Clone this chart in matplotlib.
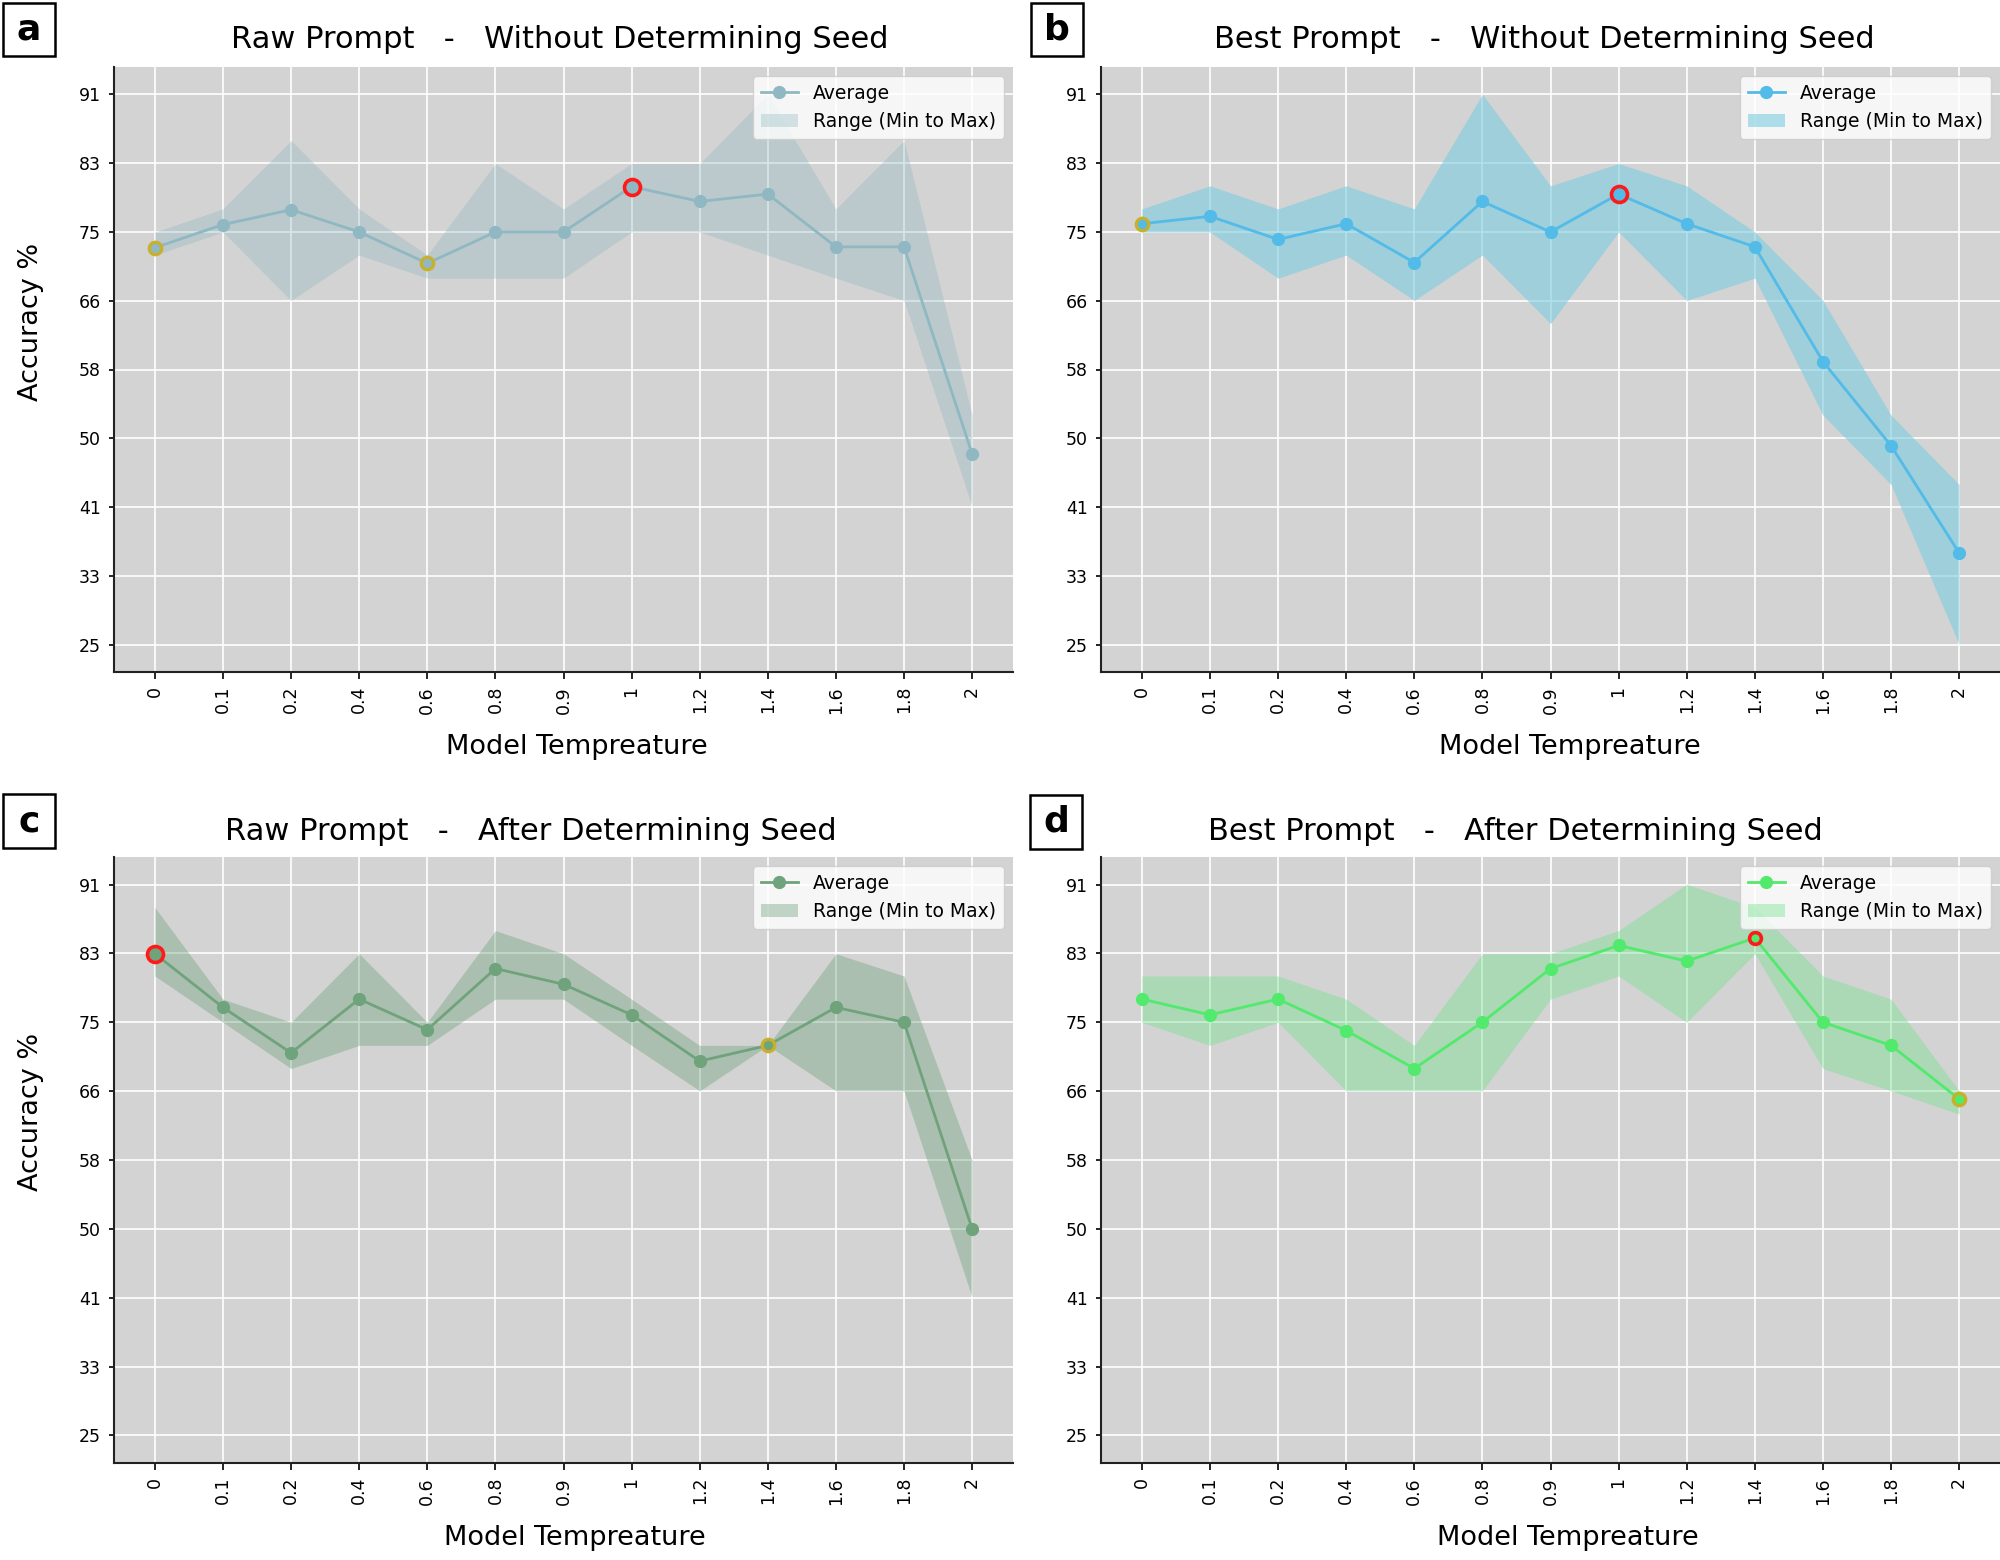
import matplotlib
matplotlib.use("Agg")
import matplotlib.pyplot as plt
from matplotlib.lines import Line2D
from matplotlib.patches import Patch, Rectangle
import numpy as np

# categories and ticks
temps = ["0", "0.1", "0.2", "0.4", "0.6", "0.8", "0.9", "1", "1.2", "1.4", "1.6", "1.8", "2"]
y_tick_values = np.linspace(25, 91.667, 9)
y_tick_labels = ["25", "33", "41", "50", "58", "66", "75", "83", "91"]

# a: raw prompt, without seed
raw_without_avg = [73.1, 75.9, 77.7, 75.0, 71.2, 75.0, 75.0, 80.5, 78.7, 79.6, 73.2, 73.2, 48.1]
raw_without_min = [72.2, 75.0, 66.7, 72.2, 69.4, 69.4, 69.4, 75.0, 75.0, 72.2, 69.4, 66.7, 41.7]
raw_without_max = [75.0, 77.8, 86.1, 77.8, 72.2, 83.3, 77.8, 83.3, 83.3, 91.7, 77.8, 86.1, 52.8]

# b: best prompt, without seed
best_without_avg = [76.0, 76.9, 74.1, 76.0, 71.3, 78.7, 75.0, 79.6, 76.0, 73.2, 59.3, 49.1, 36.1]
best_without_min = [75.0, 75.0, 69.4, 72.2, 66.7, 72.2, 63.9, 75.0, 66.7, 69.4, 52.8, 44.4, 25.0]
best_without_max = [77.8, 80.6, 77.8, 80.6, 77.8, 91.7, 80.6, 83.3, 80.6, 75.0, 66.7, 52.8, 44.4]

# c: raw prompt, after seed
raw_after_avg = [83.3, 76.8, 71.3, 77.8, 74.1, 81.5, 79.6, 75.9, 70.3, 72.2, 76.8, 75.0, 50.0]
raw_after_min = [80.6, 75.0, 69.4, 72.2, 72.2, 77.8, 77.8, 72.2, 66.7, 72.2, 66.7, 66.7, 41.7]
raw_after_max = [88.9, 77.8, 75.0, 83.3, 75.0, 86.1, 83.3, 77.8, 72.2, 72.2, 83.3, 80.6, 58.3]

# d: best prompt, after seed
best_after_avg = [77.8, 75.9, 77.8, 74.0, 69.4, 75.0, 81.5, 84.3, 82.4, 85.2, 75.0, 72.2, 65.7]
best_after_min = [75.0, 72.2, 75.0, 66.7, 66.7, 66.7, 77.8, 80.6, 75.0, 83.3, 69.4, 66.7, 63.9]
best_after_max = [80.6, 80.6, 80.6, 77.8, 72.2, 83.3, 83.3, 86.1, 91.7, 88.9, 80.6, 77.8, 66.7]

# highlighted points (index into temps)
red_points = [[7], [7], [0], [9]]
gold_points = [[0, 4], [0], [9], [12]]

titles = ["Raw Prompt   -   Without Determining Seed",
          "Best Prompt   -   Without Determining Seed",
          "Raw Prompt   -   After Determining Seed",
          "Best Prompt   -   After Determining Seed"]
letters = ["a", "b", "c", "d"]

series = [(raw_without_avg, raw_without_min, raw_without_max),
          (best_without_avg, best_without_min, best_without_max),
          (raw_after_avg, raw_after_min, raw_after_max),
          (best_after_avg, best_after_min, best_after_max)]

line_colors = ["#8fb8c2", "#52bbe8", "#6fa37c", "#52ea6c"]
fill_colors = ["#8fb8c2", "#7ccde0", "#6fa37c", "#6fe089"]
fill_alphas = [0.35, 0.6, 0.4, 0.4]

W, H = 2000, 1560


def px_box(x0, y0, x1, y1):
    # pixel box measured from the top-left -> figure fraction rect
    return [x0 / W, 1 - y1 / H, (x1 - x0) / W, (y1 - y0) / H]


axes_px = [(114, 67, 1013, 672), (1101, 67, 2000, 672),
           (114, 857, 1013, 1463), (1101, 857, 2000, 1463)]
title_px = [(231, 48), (1214, 48), (225, 840), (1208, 840)]
box_px = [(3, 3, 55, 56), (1031, 3, 1083, 56), (3, 794, 55, 848), (1030, 795, 1082, 849)]
xlabel_x = [0.515, 0.521, 0.513, 0.519]

plt.rcParams['font.family'] = 'DejaVu Sans'
fig = plt.figure(figsize=(20, 15.6), dpi=100)

x = np.arange(len(temps))
for i in range(4):
    avg, lo, hi = [np.array(s) for s in series[i]]
    ax = fig.add_axes(px_box(*axes_px[i]))
    ax.set_facecolor("#d3d3d3")
    ax.grid(True, color="white", linewidth=1.2)
    ax.set_axisbelow(True)

    ax.fill_between(x, lo, hi, color=fill_colors[i], alpha=fill_alphas[i], linewidth=0)
    ax.plot(x, avg, color=line_colors[i], lw=2, marker="o", ms=8.5)
    r = red_points[i]
    g = gold_points[i]
    ax.plot(x[r], avg[r], "o", ms=11.5 if i != 3 else 8.5, mfc="none", mec="#ff1a1a", mew=2.6)
    ax.plot(x[g], avg[g], "o", ms=9, mfc="none", mec="#c9b02a", mew=2.3)

    ax.set_xticks(x)
    ax.set_xticklabels(temps, rotation=90, fontsize=12.5)
    ax.set_yticks(y_tick_values)
    ax.set_yticklabels(y_tick_labels, fontsize=12.5)
    ax.set_xlim(-0.6, 12.6)
    ax.set_ylim(21.667, 95)
    for s in ["top", "right"]:
        ax.spines[s].set_visible(False)
    for s in ["left", "bottom"]:
        ax.spines[s].set_linewidth(1.5)
        ax.spines[s].set_color("#222222")
    ax.tick_params(axis="x", length=5, width=1.2, pad=5)
    ax.tick_params(axis="y", length=3.5, width=1.2, pad=6)

    ax.set_xlabel("Model Tempreature", fontsize=19.5)
    ax.xaxis.set_label_coords(xlabel_x[i], -0.103)
    if i % 2 == 0:
        ax.set_ylabel("Accuracy %", fontsize=19.5)
        ax.yaxis.set_label_coords(-0.078, 0.579)

    handles = [Line2D([0], [0], color=line_colors[i], lw=2, marker="o", ms=8.5),
               Patch(facecolor=fill_colors[i], alpha=fill_alphas[i], edgecolor="none")]
    ax.legend(handles, ["Average", "Range (Min to Max)"], loc="upper right", fontsize=13.5)

    tx, ty = title_px[i]
    fig.text(tx / W, 1 - ty / H, titles[i], fontsize=22, ha="left", va="baseline")

    bx0, by0, bx1, by1 = box_px[i]
    fig.patches.append(Rectangle((bx0 / W, 1 - by1 / H), (bx1 - bx0) / W, (by1 - by0) / H,
                                 transform=fig.transFigure, fill=False, ec="black", lw=1.8))
    fig.text((bx0 + bx1) / 2 / W, 1 - (by0 + by1) / 2 / H, letters[i], fontsize=26,
             fontweight="bold", ha="center", va="center")

fig.savefig("out.png", dpi=100)
